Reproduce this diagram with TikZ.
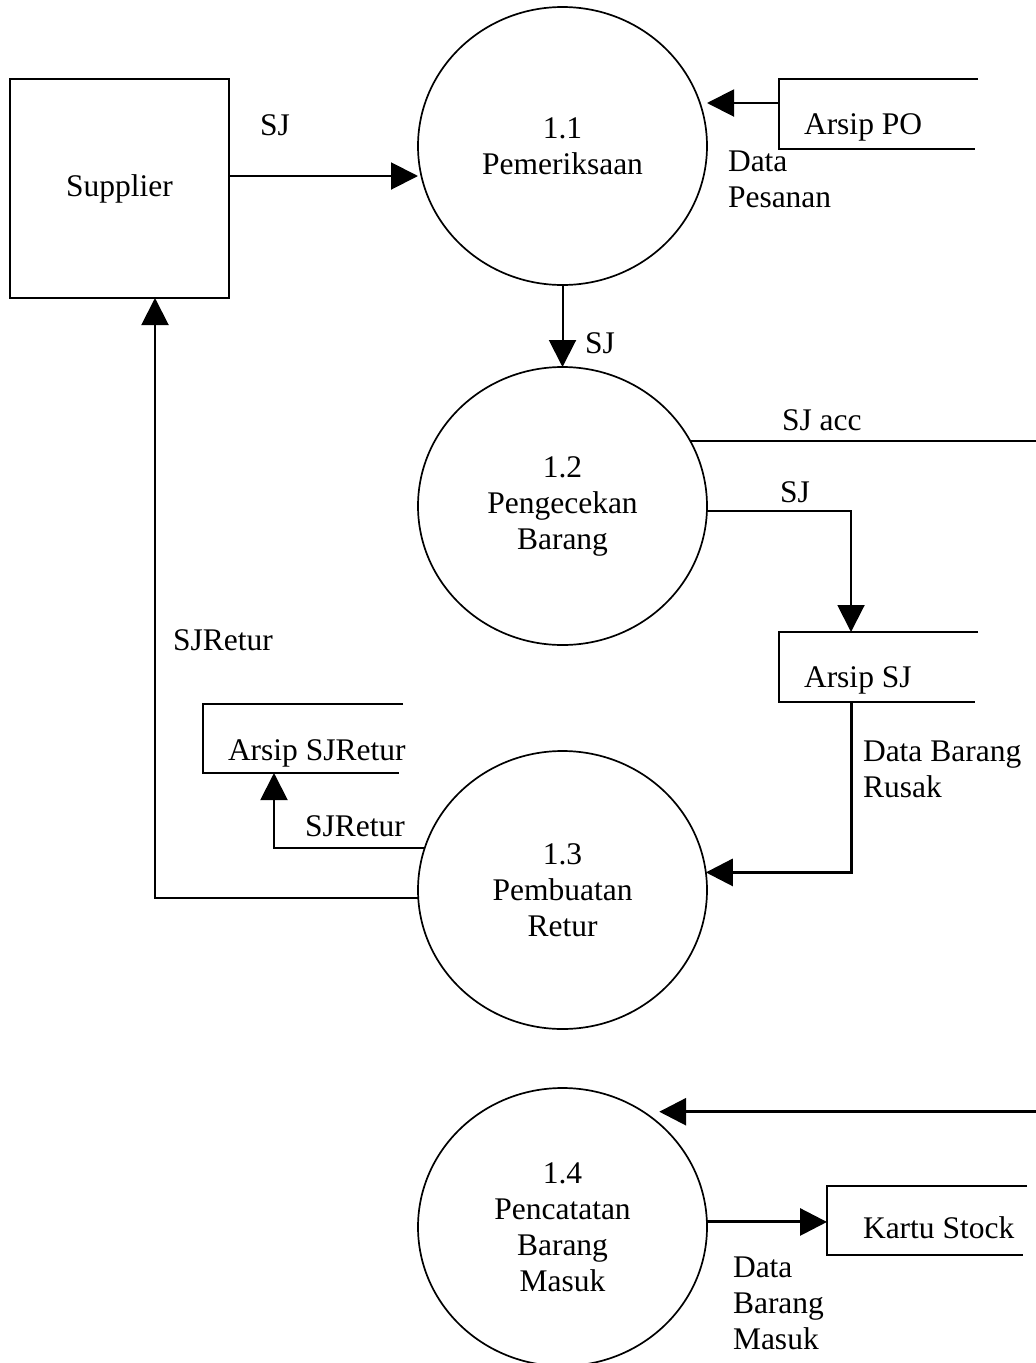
\documentclass[tikz,border=0pt]{standalone}
\usepackage{fontspec}
\setmainfont{Liberation Serif}
\usetikzlibrary{arrows.meta,shapes.geometric}
\begin{document}
\begin{tikzpicture}[x=1pt,y=-1pt,
  every node/.style={font=\fontsize{31.5pt}{36pt}\selectfont, inner sep=0pt, outer sep=0pt},
  proc/.style={ellipse, draw, line width=1.7pt, minimum width=289pt, minimum height=278pt, align=center},
  entity/.style={rectangle, draw, line width=1.7pt, minimum width=219pt, minimum height=219pt},
  storeframe/.style={rectangle, minimum height=70pt, minimum width=199pt},
  storeline/.style={line width=1.7pt},
  plainflow/.style={line width=2pt},
  flow/.style={line width=2pt, -{Triangle[length=27pt,width=27pt]}},
  heavyflow/.style={line width=3pt, -{Triangle[length=27pt,width=27pt]}},
  lbl/.style={anchor=base west, align=left}
]
\useasboundingbox (0,0) rectangle (1036,1363);

% external entity
\node[entity] (sup) at (119.5,188.5) {Supplier};

% processes
\node[proc] (p11) at (562.5,146)  {1.1\\Pemeriksaan};
\node[proc] (p12) at (562.5,506)  {1.2\\Pengecekan\\Barang};
\node[proc] (p13) at (562.5,890)  {1.3\\Pembuatan\\Retur};
\node[proc] (p14) at (562.5,1227) {1.4\\Pencatatan\\Barang\\Masuk};

% data stores (open on the right)
\node[storeframe] (apo) at (878.5,114) {};
\draw[storeline] (apo.north east) -- (apo.north west) -- (apo.south west) -- ([xshift=-3pt]apo.south east);
\node[lbl] (apo-t) at ([xshift=25pt,yshift=-20pt]apo.west) {Arsip PO};

\node[storeframe] (asj) at (878.5,667) {};
\draw[storeline] (asj.north east) -- (asj.north west) -- (asj.south west) -- ([xshift=-3pt]asj.south east);
\node[lbl] (asj-t) at ([xshift=25pt,yshift=-20pt]asj.west) {Arsip SJ};

\node[storeframe, minimum width=200pt, minimum height=69pt] (asr) at (303,738.5) {};
\draw[storeline] (asr.north east) -- (asr.north west) -- (asr.south west) -- ([xshift=-4pt]asr.south east);
\node[lbl] (asr-t) at ([xshift=25pt,yshift=-22pt]asr.west) {Arsip SJRetur};

\node[storeframe, minimum width=200pt, minimum height=69pt] (ks) at (927,1220.5) {};
\draw[storeline] (ks.north east) -- (ks.north west) -- (ks.south west) -- ([xshift=-4pt]ks.south east);
\node[lbl] (ks-t) at ([xshift=36pt,yshift=-17.5pt]ks.west) {Kartu Stock};

% data flows
\coordinate (s1) at ([yshift=12.5pt]sup.east);
\draw[flow] (s1) -- (s1 -| p11.west);

\coordinate (po) at ([yshift=11pt]apo.west);
\draw[flow] (po) -- (po -| p11.east);

\draw[flow] (p11.south) -- (p12.north);

\coordinate (accR) at (p12.27 -| 1040,0);
\draw[plainflow] (p12.27) -- (accR);

\draw[flow] (p12.358) -| ([xshift=-27.5pt]asj.north);
\draw[heavyflow] ([xshift=-27.5pt]asj.south) |- (p13.7);

\draw[flow] (p13.163) -| ([xshift=-29pt]asr.south);
\draw[flow] (p13.183) -| ([xshift=35.5pt]sup.south);

\coordinate (inR) at (p14.55 -| 1040,0);
\draw[heavyflow] (inR) -- ([xshift=16pt]p14.55);
\draw[heavyflow] (p14.2) -- (p14.2 -| ks.west);

% flow labels (multi-line labels sit on the baseline of their last line)
\node[lbl] (l-sj1) at (260,135) {SJ};
\node[lbl] (l-dp)  at (728,207) {Data\\Pesanan};
\node[lbl] (l-sj2) at (585,353) {SJ};
\node[lbl] (l-acc) at (782,430) {SJ acc};
\node[lbl] (l-sj3) at (780,502) {SJ};
\node[lbl] (l-dbr) at (863,797) {Data Barang\\Rusak};
\node[lbl] (l-ret1) at (173,650) {SJRetur};
\node[lbl] (l-ret2) at (305,836) {SJRetur};
\node[lbl] (l-dbm) at (733,1349) {Data\\Barang\\Masuk};
\end{tikzpicture}
\end{document}
